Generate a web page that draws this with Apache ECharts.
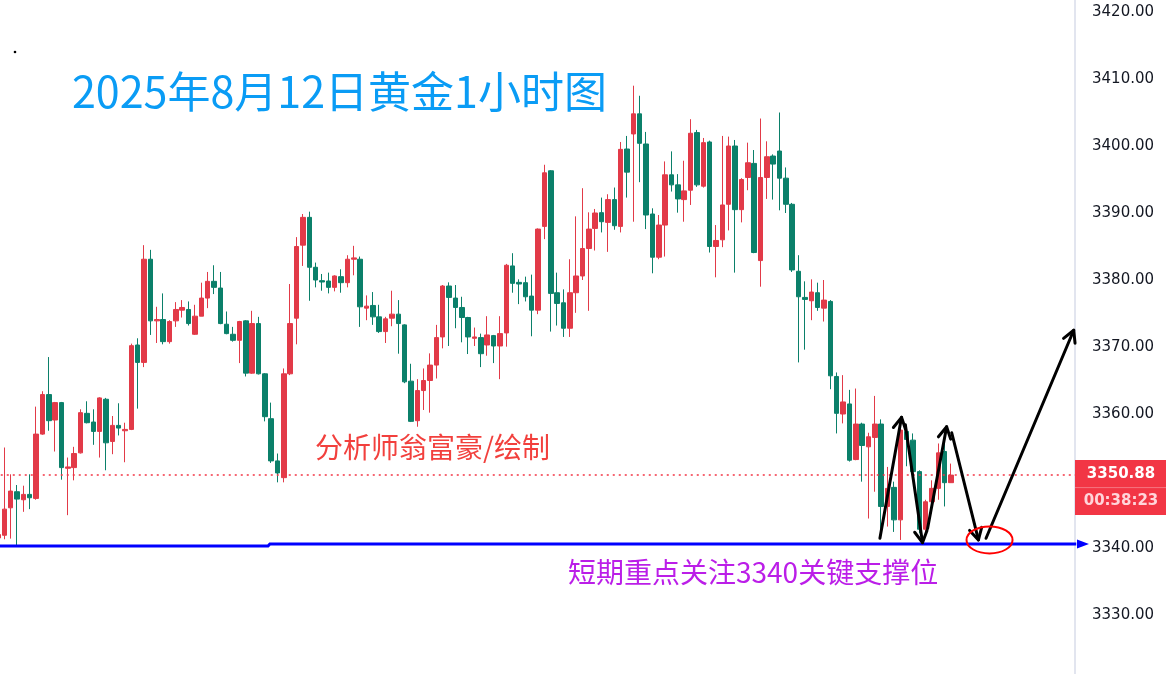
<!DOCTYPE html>
<html>
<head>
<meta charset="utf-8">
<script src="https://cdn.jsdelivr.net/npm/echarts/dist/echarts.min.js"></script>
<style>
html,body{margin:0;padding:0;background:#fff;}
#chart{width:1166px;height:674px;}
</style>
</head>
<body>
<div id="chart"></div>
<script>
// ---- data (1-hour candles) ----
const openV = [3341.5,3341.9,3346.0,3348.4,3347.2,3348.0,3347.4,3357.0,3362.9,3359.1,
3361.7,3351.9,3352.0,3354.2,3360.1,3358.8,3357.4,3362.2,3355.9,3358.3,
3357.5,3357.7,3370.3,3367.7,3383.1,3373.9,3374.1,3370.8,3373.9,3375.5,
3375.6,3371.9,3374.6,3377.3,3379.8,3378.8,3373.4,3371.9,3371.0,3373.9,
3366.1,3373.5,3366.0,3359.3,3353.0,3350.5,3366.0,3374.3,3385.2,3389.35,
3381.9,3379.9,3379.85,3378.9,3380.5,3379.6,3383.1,3383.1,3375.8,3376.2,
3374.5,3372.3,3374.3,3374.9,3373.3,3364.9,3359.0,3363.5,3365.0,3367.3,
3371.5,3379.1,3377.3,3375.9,3374.4,3371.3,3371.4,3370.3,3371.7,3370.15,
3372.1,3382.1,3379.65,3379.6,3377.6,3375.5,3388.0,3396.3,3378.1,3376.6,
3372.8,3378.1,3380.6,3384.7,3387.7,3390.05,3388.6,3392.0,3388.0,3399.55,
3401.8,3404.8,3400.3,3389.85,3383.4,3388.2,3395.7,3394.2,3392.0,3393.4,
3402.0,3394.0,3400.6,3385.0,3386.0,3391.3,3400.0,3390.5,3395.3,3397.4,
3382.9,3395.3,3398.5,3399.25,3395.2,3391.3,3381.3,3377.4,3376.9,3378.1,
3375.8,3376.8,3365.6,3360.0,3361.5,3353.2,3358.5,3355.1,3356.5,3358.5,
3346.2,3349.05,3344.2,3357.4,3356.1,3351.4,3342.8,3346.9,3348.9,3354.4,
3349.75];
const closeV = [3342.0,3345.8,3348.5,3347.3,3348.0,3347.5,3357.0,3362.9,3359.0,3361.7,
3352.0,3352.1,3354.1,3360.2,3358.7,3357.4,3362.4,3355.7,3358.3,3357.9,
3357.7,3370.2,3367.7,3383.1,3373.9,3374.1,3370.8,3373.8,3375.6,3375.9,
3373.5,3374.6,3377.3,3379.8,3378.9,3373.5,3372.0,3371.0,3373.8,3366.1,
3373.5,3366.0,3359.6,3353.0,3351.2,3366.0,3373.5,3385.0,3389.35,3381.9,
3380.0,3379.7,3378.9,3380.6,3379.6,3383.1,3383.3,3376.0,3376.1,3374.5,
3372.3,3374.2,3374.9,3373.5,3364.8,3358.9,3363.5,3365.0,3367.3,3371.4,
3379.1,3377.4,3375.9,3374.4,3371.5,3371.5,3369.0,3371.8,3370.15,3372.0,
3382.2,3379.5,3379.4,3377.5,3375.5,3387.6,3396.0,3378.0,3376.5,3372.8,
3378.1,3380.6,3384.7,3387.6,3390.0,3388.7,3392.0,3388.1,3399.5,3396.1,
3404.8,3400.4,3389.7,3383.4,3388.2,3395.7,3394.2,3392.1,3393.3,3401.9,
3394.2,3400.5,3385.0,3385.9,3391.2,3400.0,3390.5,3395.0,3397.5,3384.1,
3395.3,3398.4,3397.3,3395.2,3391.3,3381.5,3377.5,3377.1,3378.2,3375.9,
3377.0,3365.7,3360.1,3361.8,3353.1,3358.5,3355.3,3356.6,3358.5,3346.2,
3348.9,3344.2,3357.6,3356.2,3351.4,3342.8,3346.9,3348.9,3354.2,3349.75,
3350.88];
const lowV = [3341.0,3341.3,3341.4,3340.4,3345.4,3345.8,3347.2,3356.9,3357.5,3354.4,
3350.2,3344.9,3350.1,3354.1,3358.6,3355.4,3353.5,3351.6,3354.0,3356.8,
3352.8,3357.6,3360.8,3367.0,3371.8,3370.6,3370.4,3370.5,3373.0,3374.4,
3373.2,3371.8,3374.6,3375.8,3377.9,3373.4,3371.9,3370.8,3367.6,3365.6,
3366.0,3365.9,3358.9,3352.7,3349.8,3349.8,3365.8,3370.4,3382.1,3376.9,
3378.9,3378.4,3378.0,3378.3,3378.1,3378.9,3380.7,3373.0,3374.0,3373.3,
3372.1,3370.6,3373.1,3369.0,3364.6,3358.8,3358.1,3360.6,3360.2,3365.3,
3369.8,3370.15,3372.8,3370.7,3368.95,3370.15,3367.0,3368.7,3367.6,3365.2,
3370.05,3378.1,3376.4,3376.8,3371.6,3374.9,3386.1,3372.3,3373.2,3371.5,
3371.5,3375.1,3380.0,3375.4,3384.4,3387.1,3384.2,3387.5,3387.1,3392.3,
3388.7,3394.6,3387.6,3381.0,3383.1,3383.5,3393.2,3390.05,3388.7,3391.2,
3393.9,3393.8,3384.1,3380.4,3384.9,3387.4,3381.1,3388.6,3393.4,3384.0,
3379.0,3392.1,3392.0,3390.4,3390.0,3381.2,3367.7,3369.6,3374.0,3375.4,
3373.8,3363.7,3357.1,3358.6,3352.9,3353.1,3349.9,3344.4,3348.4,3341.4,
3343.2,3342.4,3341.2,3352.2,3350.4,3342.2,3341.7,3346.2,3347.2,3346.2,
3349.7];
const highV = [3342.5,3355.0,3351.0,3349.4,3349.3,3351.0,3361.1,3363.4,3368.5,3361.8,
3361.8,3353.5,3355.1,3360.7,3361.9,3360.7,3362.5,3362.4,3359.7,3361.6,
3358.7,3370.5,3371.3,3385.2,3384.5,3376.0,3378.0,3374.0,3376.7,3377.0,
3376.8,3376.3,3379.6,3381.2,3382.2,3381.2,3375.3,3373.0,3373.9,3374.0,
3375.4,3374.5,3366.1,3361.7,3354.1,3366.8,3379.4,3386.4,3389.85,3390.2,
3382.6,3380.9,3381.1,3380.7,3381.6,3383.7,3385.1,3383.5,3377.7,3378.2,
3376.3,3374.5,3378.4,3377.0,3373.4,3367.5,3365.2,3366.8,3369.05,3373.3,
3379.25,3379.65,3379.25,3377.5,3374.5,3372.9,3372.0,3374.6,3371.8,3374.6,
3382.4,3384.0,3380.1,3380.5,3380.8,3387.7,3397.2,3396.4,3381.1,3378.6,
3383.1,3389.5,3393.7,3390.1,3390.6,3392.3,3392.8,3393.8,3400.6,3401.5,
3409.0,3407.5,3402.1,3390.7,3389.7,3397.7,3399.2,3395.8,3397.8,3404.0,
3402.4,3401.2,3400.8,3388.2,3401.5,3401.4,3400.9,3395.2,3400.5,3399.4,
3404.1,3400.7,3398.75,3405.0,3396.8,3391.5,3383.7,3379.8,3380.1,3379.6,
3380.0,3377.0,3366.2,3365.8,3363.6,3363.8,3358.7,3357.2,3362.7,3359.2,
3352.1,3349.9,3359.1,3358.4,3357.1,3351.6,3347.2,3350.1,3355.6,3356.6,
3352.6];

const SLOTS = 170;               // candle slots incl. empty space on the right
const categories = [];
for (let i = 0; i < SLOTS; i++) categories.push('H' + i);

const lastPrice = 3350.88;
const lastTimer = '00:38:23';
const titleText = '2025年8月12日黄金1小时图';
const authorText = '分析师翁富豪/绘制';
const noteText = '短期重点关注3340关键支撑位';

// annotation geometry in data space: [category index, price]
const blueLinePts = [[0.3, 3340.3], [42.5, 3340.3], [42.8, 3340.6], [169.7, 3340.6]];
const blueArrowTip = [171.7, 3340.6];
const zigArrows = [
  [[138.8, 3341.45], [142.2, 3359.5]],
  [[142.8, 3358.4], [145.5, 3340.8]],
  [[146.3, 3342.9], [149.3, 3358.1]],
  [[150.1, 3357.2], [154.3, 3341.2]],
  [[155.5, 3341.45], [169.3, 3372.5]]
];
const ellipseCenter = [156.05, 3341.2];

const candleData = openV.map((o, i) => [o, closeV[i], lowV[i], highV[i]]);

const UP = '#e23a48', DOWN = '#0b806a';

const chart = echarts.init(document.getElementById('chart'), null, {renderer: 'canvas'});
chart.setOption({
  animation: false,
  backgroundColor: '#ffffff',
  grid: {left: -5.24, right: 91, top: -55, bottom: -8, containLabel: false, outerBoundsMode: 'none'},
  xAxis: {
    type: 'category', data: categories, boundaryGap: true, show: false
  },
  yAxis: {
    type: 'value', position: 'right', min: 3320, max: 3430, interval: 10,
    axisLine: {show: true, lineStyle: {color: '#d9dcea', width: 1.5}},
    axisTick: {show: false},
    splitLine: {show: false},
    axisLabel: {
      margin: 17, color: '#131722', fontSize: 15, fontFamily: 'DejaVu Sans',
      formatter: v => v.toFixed(2)
    }
  },
  series: [{
    type: 'candlestick',
    data: candleData,
    barWidth: 5,
    itemStyle: {color: UP, color0: DOWN, borderColor: UP, borderColor0: DOWN, borderWidth: 1},
    markLine: {
      silent: true, symbol: ['none', 'none'],
      label: {show: false},
      lineStyle: {color: '#f23645', type: [2, 4], width: 1.5},
      data: [{yAxis: lastPrice}]
    }
  }]
});

// pixel mapping through the chart's own axes
const a = chart.convertToPixel({xAxisIndex: 0, yAxisIndex: 0}, [0, 3340]);
const b = chart.convertToPixel({xAxisIndex: 0, yAxisIndex: 0}, [100, 3400]);
function px(pt) {
  return [a[0] + (b[0] - a[0]) * pt[0] / 100, a[1] + (b[1] - a[1]) * (pt[1] - 3340) / 60];
}

const g = [];
// blue support line
g.push({type: 'polyline', shape: {points: blueLinePts.map(px)}, style: {stroke: '#0000ff', lineWidth: 3, fill: null}, z: 10});
const tip = px(blueArrowTip);
g.push({type: 'polygon', shape: {points: [tip, [tip[0] - 12, tip[1] - 4.5], [tip[0] - 12, tip[1] + 4.5]]}, style: {fill: '#0000ff'}, z: 10});

// black zigzag arrows
zigArrows.forEach(seg => {
  const p1 = px(seg[0]), p2 = px(seg[1]);
  g.push({type: 'line', shape: {x1: p1[0], y1: p1[1], x2: p2[0], y2: p2[1]}, style: {stroke: '#000', lineWidth: 3, lineCap: 'round'}, z: 11});
  const ang = Math.atan2(p2[1] - p1[1], p2[0] - p1[0]);
  const L = 13, spread = 0.5;
  const h1 = [p2[0] - L * Math.cos(ang - spread), p2[1] - L * Math.sin(ang - spread)];
  const h2 = [p2[0] - L * Math.cos(ang + spread), p2[1] - L * Math.sin(ang + spread)];
  g.push({type: 'polyline', shape: {points: [h1, p2, h2]}, style: {stroke: '#000', lineWidth: 3, lineCap: 'round', lineJoin: 'round', fill: null}, z: 11});
});

// red ellipse
const ec = px(ellipseCenter);
g.push({type: 'ellipse', shape: {cx: ec[0], cy: ec[1], rx: 23, ry: 13.5}, style: {stroke: '#ff0000', lineWidth: 2, fill: null}, z: 12});

// price label box on the axis
const pl = px([0, lastPrice]);
g.push({type: 'rect', shape: {x: 1075, y: pl[1] - 15, width: 91, height: 55}, style: {fill: '#f23645'}, z: 20});
g.push({type: 'line', shape: {x1: 1075, y1: pl[1] + 12.5, x2: 1166, y2: pl[1] + 12.5}, style: {stroke: '#f57582', lineWidth: 1}, z: 21});
g.push({type: 'text', x: 1121, y: pl[1] - 1, style: {text: lastPrice.toFixed(2), fill: '#ffffff', fontSize: 15, fontWeight: 'bold', fontFamily: 'DejaVu Sans', align: 'center', verticalAlign: 'middle'}, z: 22});
g.push({type: 'text', x: 1121, y: pl[1] + 26, style: {text: lastTimer, fill: '#ffd5da', fontSize: 15, fontWeight: 'bold', fontFamily: 'DejaVu Sans', align: 'center', verticalAlign: 'middle'}, z: 22});

// texts
g.push({type: 'text', x: 72, y: 92, style: {text: titleText, fill: '#0a9cf5', fontSize: 43, fontFamily: 'Noto Sans CJK SC', verticalAlign: 'middle'}, z: 30});
g.push({type: 'text', x: 315, y: 447, style: {text: authorText, fill: '#f2403d', fontSize: 28, fontFamily: 'Noto Sans CJK SC', verticalAlign: 'middle'}, z: 30});
g.push({type: 'text', x: 568, y: 572, style: {text: noteText, fill: '#bb1ee8', fontSize: 28, fontFamily: 'Noto Sans CJK SC', verticalAlign: 'middle'}, z: 30});
g.push({type: 'circle', shape: {cx: 15, cy: 52, r: 1.3}, style: {fill: '#000'}, z: 30});

chart.setOption({graphic: g});
</script>
</body>
</html>
